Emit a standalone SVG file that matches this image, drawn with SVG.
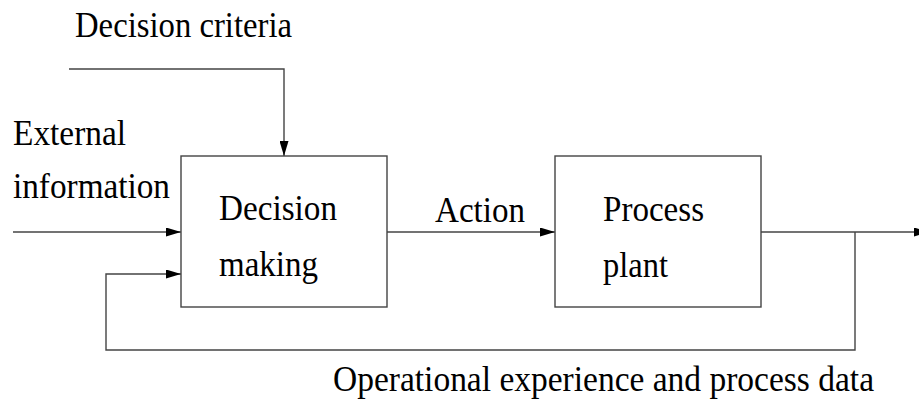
<svg xmlns="http://www.w3.org/2000/svg" width="919" height="404" viewBox="0 0 919 404">
  <defs>
    <marker id="arrow" viewBox="0 0 15 9" refX="15" refY="4.5" markerWidth="15" markerHeight="9" markerUnits="userSpaceOnUse" orient="auto">
      <path d="M0,0 L15,4.5 L0,9 Z" fill="#000"/>
    </marker>
    <style>
      .box { fill: #fff; stroke: #444; stroke-width: 1.4; }
      .wire { fill: none; stroke: #444; stroke-width: 1.4; }
      .lbl { font-family: "Liberation Serif", "Times New Roman", serif; font-size: 35px; fill: #000; }
    </style>
  </defs>
  <rect width="919" height="404" fill="#fff"/>

  <g id="connectors">
    <!-- decision criteria, from above -->
    <polyline class="wire" points="69,69 284,69 284,156" marker-end="url(#arrow)"/>
    <!-- external information -->
    <line class="wire" x1="13" y1="232" x2="181" y2="232" marker-end="url(#arrow)"/>
    <!-- action -->
    <line class="wire" x1="387" y1="232" x2="555" y2="232" marker-end="url(#arrow)"/>
    <!-- plant output -->
    <line class="wire" x1="761" y1="232" x2="929" y2="232" marker-end="url(#arrow)"/>
    <!-- feedback loop -->
    <polyline class="wire" points="855,232 855,350 106,350 106,274 181,274" marker-end="url(#arrow)"/>
  </g>

  <g id="decision-making">
    <rect class="box" x="181" y="156" width="206" height="151"/>
    <text class="lbl" x="219" y="220" textLength="118" lengthAdjust="spacingAndGlyphs">Decision</text>
    <text class="lbl" x="219" y="276" textLength="99" lengthAdjust="spacingAndGlyphs">making</text>
  </g>

  <g id="process-plant">
    <rect class="box" x="555" y="156" width="206" height="151"/>
    <text class="lbl" x="603" y="221" textLength="101" lengthAdjust="spacingAndGlyphs">Process</text>
    <text class="lbl" x="603" y="277" textLength="65" lengthAdjust="spacingAndGlyphs">plant</text>
  </g>

  <g id="labels">
    <text class="lbl" x="75" y="37" textLength="217" lengthAdjust="spacingAndGlyphs">Decision criteria</text>
    <text class="lbl" x="13" y="145" textLength="113" lengthAdjust="spacingAndGlyphs">External</text>
    <text class="lbl" x="13" y="198" textLength="157" lengthAdjust="spacingAndGlyphs">information</text>
    <text class="lbl" x="435" y="222" textLength="90" lengthAdjust="spacingAndGlyphs">Action</text>
    <text class="lbl" x="333" y="391" textLength="541" lengthAdjust="spacingAndGlyphs">Operational experience and process data</text>
  </g>
</svg>
